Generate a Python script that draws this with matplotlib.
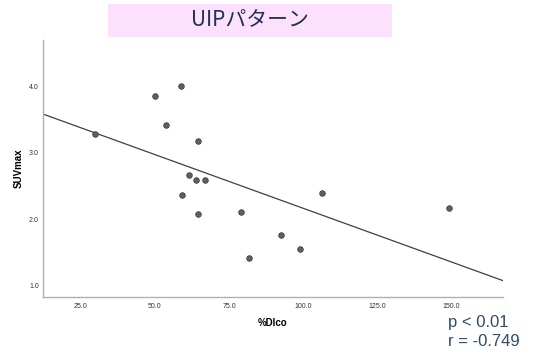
import numpy as np
import matplotlib
matplotlib.use("Agg")
import matplotlib.pyplot as plt
from matplotlib.patches import Rectangle

# data
dlco = [29.7, 50.0, 58.9, 53.8, 64.5, 61.5, 64.0, 66.9, 59.1, 64.5,
        78.9, 81.6, 92.4, 99.0, 106.2, 149.2]
suv = [3.28, 3.86, 4.02, 3.42, 3.18, 2.66, 2.59, 2.59, 2.37, 2.08,
       2.10, 1.41, 1.76, 1.55, 2.40, 2.16]
x_ticks = [25, 50, 75, 100, 125, 150]
y_ticks = [1, 2, 3, 4]
title = "UIPパターン"
stats = ["p < 0.01", "r = -0.749"]

plt.rcParams['font.family'] = ['Liberation Sans', 'DejaVu Sans']

fig = plt.figure(figsize=(5.35, 3.52), dpi=100)
ax = fig.add_axes([43 / 535, 1 - 297 / 352, 460 / 535, 257 / 352])

ax.scatter(dlco, suv, s=16, color="#606060", edgecolor="#404040",
           linewidth=0.6, zorder=3)

# least squares line across full x range
xmin, xmax = 12.25, 167.4
slope, icpt = np.polyfit(dlco, suv, 1)
xs = np.array([xmin, xmax])
ax.plot(xs, slope * xs + icpt, color="#404040", lw=0.9)

ax.set_xlim(xmin, xmax)
ax.set_ylim(0.82, 4.71)
ax.set_xticks(x_ticks)
ax.set_xticklabels([f"{v:.1f}" for v in x_ticks])
ax.set_yticks(y_ticks)
ax.set_yticklabels([f"{v:.1f}" for v in y_ticks])
ax.tick_params(axis="x", length=0, labelsize=5, colors="#333333", pad=4)
ax.tick_params(axis="y", length=0, labelsize=5, colors="#333333", pad=3)
for s in ["top", "right"]:
    ax.spines[s].set_visible(False)
for s in ["left", "bottom"]:
    ax.spines[s].set_color("#b0b0b0")
    ax.spines[s].set_linewidth(1.0)

ax.set_xlabel("%Dlco", fontsize=7, fontweight="bold", labelpad=6)
ax.set_ylabel("SUVmax", fontsize=7, fontweight="bold", labelpad=4)

# title box
fig.patches.append(Rectangle((108 / 535, 1 - 37 / 352), 284 / 535, 33 / 352,
                             transform=fig.transFigure, facecolor="#fde0fb",
                             edgecolor="none"))
fig.text(250 / 535, 1 - 20 / 352, title, ha="center", va="center",
         fontsize=15, color="#1f3055",
         family=['Noto Sans CJK JP', 'DejaVu Sans'])

fig.text(448 / 535, 1 - 322 / 352, stats[0], fontsize=12, color="#2f4a6a",
         va="center")
fig.text(448 / 535, 1 - 342 / 352, stats[1], fontsize=12, color="#2f4a6a",
         va="center")

fig.savefig("out.png", dpi=100)
